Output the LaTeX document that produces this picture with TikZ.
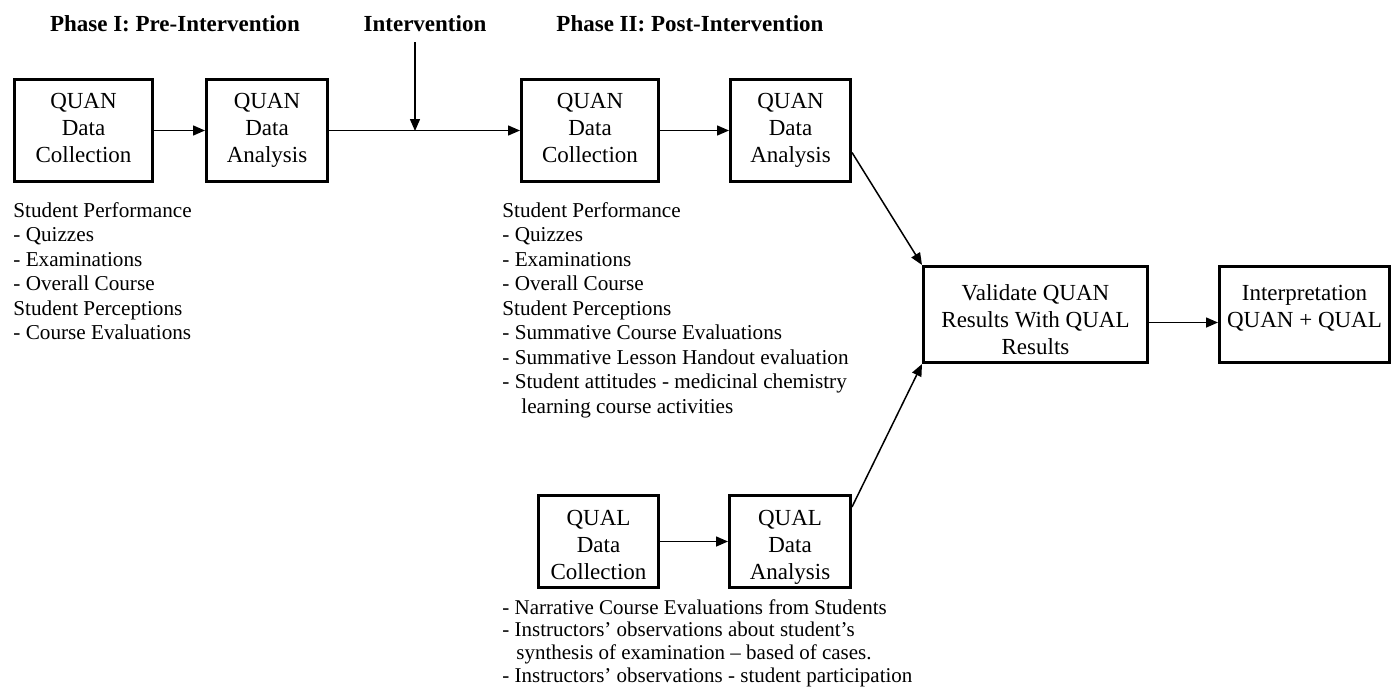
\documentclass[tikz,border=0pt]{standalone}
\usepackage{fontspec}
\setmainfont{Liberation Serif}
\usetikzlibrary{arrows.meta}
\newcommand{\padtop}[1]{\rule{0pt}{#1}}
\begin{document}
\begin{tikzpicture}[x=0.5pt,y=-0.5pt,
 box/.style={draw,line width=1.5pt,align=center,inner sep=0pt,font=\fontsize{11.5}{13.5}\selectfont},
 conn/.style={line width=0.75pt,-{Triangle[length=6pt,width=5pt]}},
 head/.style={inner sep=0pt,font=\fontsize{11.5}{13.5}\selectfont\bfseries},
 lst/.style={anchor=north west,align=left,inner sep=0pt,font=\fontsize{10.6}{12.25}\selectfont}]
\useasboundingbox (0,0) rectangle (1392,696);
% headings
\node[head] (h1) at (175,24) {Phase I: Pre-Intervention};
\node[head] (h2) at (425,24) {Intervention};
\node[head] (h3) at (690,24) {Phase II: Post-Intervention};
% boxes
\node[box,minimum width=69pt,minimum height=51pt] (b1) at (83.5,130.5) {\strut QUAN\\\strut Data\\\strut Collection};
\node[box,minimum width=60.5pt,minimum height=51pt] (b2) at (267,130.5) {\strut QUAN\\\strut Data\\\strut Analysis};
\node[box,minimum width=68.5pt,minimum height=51pt] (b3) at (590,130.5) {\strut QUAN\\\strut Data\\\strut Collection};
\node[box,minimum width=60pt,minimum height=51pt] (b4) at (790.5,130.5) {\strut QUAN\\\strut Data\\\strut Analysis};
\node[box,minimum width=60pt,minimum height=43pt] (b5) at (598.5,541.5) {\padtop{15pt}QUAL\\\strut Data\\\strut Collection};
\node[box,minimum width=60.5pt,minimum height=43pt] (b6) at (790,541.5) {\padtop{15pt}QUAL\\\strut Data\\\strut Analysis};
\node[box,minimum width=112pt,minimum height=42pt] (val) at (1035.5,314.5) {\padtop{17pt}Validate QUAN\\\strut Results With QUAL\\\strut Results};
\node[box,minimum width=85pt,minimum height=42pt] (int) at (1304.5,314.5) {\padtop{17pt}Interpretation\\\strut QUAN + QUAL\\\strut};
% lists
\node[lst] (l1) at (13,202) {Student Performance\\- Quizzes\\- Examinations\\- Overall Course\\Student Perceptions\\- Course Evaluations};
\node[lst] (l2) at (502,202) {Student Performance\\- Quizzes\\- Examinations\\- Overall Course\\Student Perceptions\\- Summative Course Evaluations\\- Summative Lesson Handout evaluation\\- Student attitudes - medicinal chemistry\\\hspace*{9.5pt}learning course activities};
\node[lst,font=\fontsize{10.5}{11.35}\selectfont] (l3) at (502,599) {- Narrative Course Evaluations from Students\\- Instructors’ observations about student’s\\\hspace*{7pt}synthesis of examination – based of cases.\\- Instructors’ observations - student participation};
% connectors
\coordinate (itop) at (415,42);
\coordinate (ibot) at (415,131);
\draw[conn] (b1) -- (b2);
\draw[conn] (b2.east) -- (b3.west);
\draw[conn] (itop) -- (ibot);
\draw[conn] (b3) -- (b4);
\draw[conn] (b5) -- (b6);
\draw[conn] ([yshift=-11pt]b4.east) -- (val.north west);
\draw[conn] ([yshift=-6.5pt]b6.north east) -- (val.south west);
\draw[conn] ([yshift=-4pt]val.east) -- ([yshift=-4pt]int.west);
\end{tikzpicture}
\end{document}
